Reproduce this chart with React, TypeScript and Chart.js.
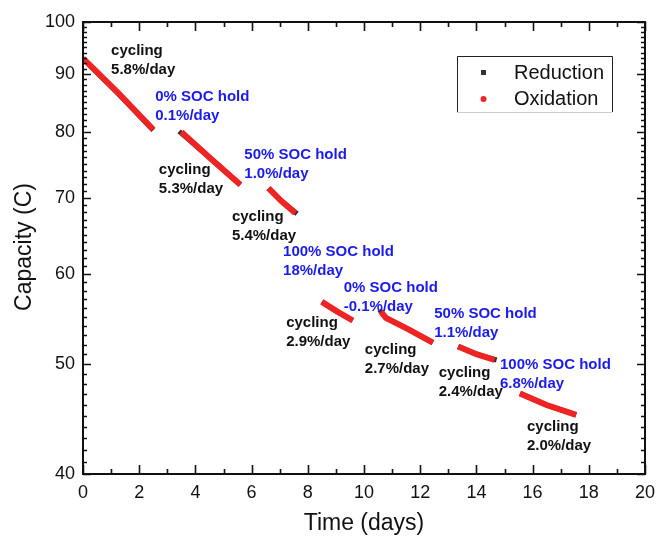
import React, { useEffect, useRef } from "react";
import { Chart, registerables } from "chart.js";

Chart.register(...registerables);

// ---- data ----
const timeTicks = [0, 2, 4, 6, 8, 10, 12, 14, 16, 18, 20];
const capacityTicks = [40, 50, 60, 70, 80, 90, 100];

// Oxidation (red) – segments separated by null
const oxidationTime = [0, 1.25, 2.5, null, 3.5, 4.55, 5.6, null, 6.6, 7.05, 7.55, null, 8.5, 9.05, 9.6, null, 10.6, 10.78, 11.6, 12.45, null, 13.35, 14.0, 14.65, null, 15.55, 16.5, 17.55];
const oxidationCapacity = [92.9, 86.6, 80.4, null, 80.0, 75.8, 71.9, null, 71.4, 69.6, 67.9, null, 56.7, 55.6, 54.6, null, 55.6, 54.9, 53.6, 52.2, null, 51.8, 51.0, 50.4, null, 47.1, 46.0, 45.1];

// Reduction (black) – mostly hidden under the oxidation trace
const reductionTime = [0, 1.25, 2.5, null, 3.42, 4.55, 5.6, null, 6.6, 7.05, 7.62, null, 8.5, 9.05, 9.6, null, 10.55, 10.78, 11.6, 12.45, null, 13.35, 14.0, 14.72, null, 15.55, 16.5, 17.55];
const reductionCapacity = [92.8, 86.5, 80.3, null, 80.1, 75.8, 71.9, null, 71.4, 69.6, 67.8, null, 56.7, 55.6, 54.6, null, 55.8, 54.9, 53.6, 52.2, null, 51.8, 51.0, 50.4, null, 47.1, 46.0, 45.1];

// Annotations (anchored in data coordinates: time, capacity)
const noteLine1 = ["cycling", "0% SOC hold", "cycling", "50% SOC hold", "cycling", "100% SOC hold", "cycling", "0% SOC hold", "cycling", "50% SOC hold", "cycling", "100% SOC hold", "cycling"];
const noteLine2 = ["5.8%/day", "0.1%/day", "5.3%/day", "1.0%/day", "5.4%/day", "18%/day", "2.9%/day", "-0.1%/day", "2.7%/day", "1.1%/day", "2.4%/day", "6.8%/day", "2.0%/day"];
const noteTime = [1.0, 2.57, 2.7, 5.74, 5.3, 7.12, 7.23, 9.28, 10.03, 12.5, 12.66, 14.84, 15.8];
const noteCapacity = [94.4, 85.9, 74.1, 76.4, 67.4, 62.7, 54.3, 58.3, 51.4, 55.3, 49.1, 49.9, 44.0];
const noteIsHold = [false, true, false, true, false, true, false, true, false, true, false, true, false];

const FONT = '"Liberation Sans", Arial, Helvetica, sans-serif';

function toPoints(xs: (number | null)[], ys: (number | null)[]) {
  return xs.map((x, i) => ({ x: x === null ? (xs[i - 1] as number) : x, y: ys[i] }));
}

const decorPlugin = {
  id: "decor",
  afterDraw(chart: any) {
    const { ctx, chartArea: a, scales } = chart;
    const xs = scales.x;
    const ys = scales.y;
    ctx.save();
    // frame
    ctx.strokeStyle = "#111";
    ctx.lineWidth = 2;
    ctx.strokeRect(a.left, a.top, a.right - a.left, a.bottom - a.top);
    // x ticks (inward, bottom & top)
    ctx.lineWidth = 1.6;
    for (let t = 0; t <= 20; t += 1) {
      const px = Math.round(xs.getPixelForValue(t)) + 0.5;
      const len = t % 2 === 0 ? 9 : 5;
      ctx.beginPath();
      ctx.moveTo(px, a.bottom);
      ctx.lineTo(px, a.bottom - len);
      ctx.moveTo(px, a.top);
      ctx.lineTo(px, a.top + len);
      ctx.stroke();
    }
    // y ticks (log, minor every 1)
    for (let v = 40; v <= 100; v += 1) {
      const py = Math.round(ys.getPixelForValue(v)) + 0.5;
      const len = v % 10 === 0 ? 8 : 4;
      ctx.beginPath();
      ctx.moveTo(a.left, py);
      ctx.lineTo(a.left + len, py);
      ctx.moveTo(a.right, py);
      ctx.lineTo(a.right - len, py);
      ctx.stroke();
    }
    // axis titles
    ctx.fillStyle = "#111";
    ctx.font = `23px ${FONT}`;
    ctx.textAlign = "center";
    ctx.textBaseline = "middle";
    ctx.fillText("Time (days)", 364, 524);
    ctx.save();
    ctx.translate(25, 247);
    ctx.rotate(-Math.PI / 2);
    ctx.fillText("Capacity (C)", 0, 0);
    ctx.restore();

    // annotations
    ctx.font = `bold 15px ${FONT}`;
    ctx.textAlign = "left";
    ctx.textBaseline = "middle";
    for (let i = 0; i < noteLine1.length; i++) {
      const px = xs.getPixelForValue(noteTime[i]);
      const py = ys.getPixelForValue(noteCapacity[i]);
      ctx.fillStyle = noteIsHold[i] ? "#1a1aee" : "#111";
      ctx.fillText(noteLine1[i], px, py);
      ctx.fillText(noteLine2[i], px, py + 19);
    }

    // legend
    const lx = a.right - 188;
    const ly = a.top + 34;
    const lw = 155;
    const lh = 56;
    ctx.strokeStyle = "#222";
    ctx.lineWidth = 1;
    ctx.beginPath();
    ctx.moveTo(lx + 0.5, ly + lh);
    ctx.lineTo(lx + 0.5, ly + 0.5);
    ctx.lineTo(lx + lw + 0.5, ly + 0.5);
    ctx.lineTo(lx + lw + 0.5, ly + lh);
    ctx.stroke();
    ctx.strokeStyle = "#ccc";
    ctx.beginPath();
    ctx.moveTo(lx, ly + lh + 0.5);
    ctx.lineTo(lx + lw, ly + lh + 0.5);
    ctx.stroke();
    ctx.fillStyle = "#333";
    ctx.fillRect(lx + 24, ly + 14, 5, 5);
    ctx.fillStyle = "#ee2424";
    ctx.beginPath();
    ctx.arc(lx + 26.5, ly + 43, 3, 0, Math.PI * 2);
    ctx.fill();
    ctx.fillStyle = "#111";
    ctx.font = `20px ${FONT}`;
    ctx.fillText("Reduction", lx + 57, ly + 17);
    ctx.fillText("Oxidation", lx + 57, ly + 43);
    ctx.restore();
  },
};

export default function App() {
  const ref = useRef<HTMLCanvasElement | null>(null);
  useEffect(() => {
    if (!ref.current) return;
    const chart = new Chart(ref.current, {
      type: "scatter",
      data: {
        datasets: [
          {
            label: "Oxidation",
            data: toPoints(oxidationTime, oxidationCapacity) as any,
            showLine: true,
            spanGaps: false,
            borderColor: "#ee2424",
            backgroundColor: "#ee2424",
            borderWidth: 6,
            borderCapStyle: "butt",
            pointRadius: 0,
            order: 1,
          },
          {
            label: "Reduction",
            data: toPoints(reductionTime, reductionCapacity) as any,
            showLine: true,
            spanGaps: false,
            borderColor: "#333",
            backgroundColor: "#333",
            borderWidth: 5,
            pointRadius: 0,
            order: 2,
          },
        ],
      },
      options: {
        animation: false,
        responsive: true,
        maintainAspectRatio: false,
        layout: { padding: { top: 22, right: 13, left: 0, bottom: 0 } },
        plugins: { legend: { display: false }, tooltip: { enabled: false } },
        scales: {
          x: {
            type: "linear",
            min: 0,
            max: 20,
            grid: { display: false, drawTicks: false },
            border: { display: false },
            afterBuildTicks: (s: any) => {
              s.ticks = timeTicks.map((v) => ({ value: v }));
            },
            afterFit: (s: any) => {
              s.height = 62;
              s.paddingLeft = 0;
              s.paddingRight = 0;
            },
            ticks: {
              padding: 8,
              color: "#111",
              font: { size: 18, family: FONT },
              maxRotation: 0,
              callback: (v: any) => String(v),
            },
          },
          y: {
            type: "logarithmic",
            min: 40,
            max: 100,
            grid: { display: false, drawTicks: false },
            border: { display: false },
            afterBuildTicks: (s: any) => {
              s.ticks = capacityTicks.map((v) => ({ value: v, major: true }));
            },
            afterFit: (s: any) => {
              s.width = 83;
              s.paddingTop = 0;
              s.paddingBottom = 0;
            },
            ticks: {
              padding: 8,
              color: "#111",
              font: { size: 18, family: FONT },
              callback: (v: any) => String(v),
            },
          },
        },
      },
      plugins: [decorPlugin],
    });
    return () => chart.destroy();
  }, []);
  return (
    <div style={{ position: "fixed", left: 0, top: 0, width: 658, height: 536, background: "#fff" }}>
      <canvas ref={ref} />
    </div>
  );
}
